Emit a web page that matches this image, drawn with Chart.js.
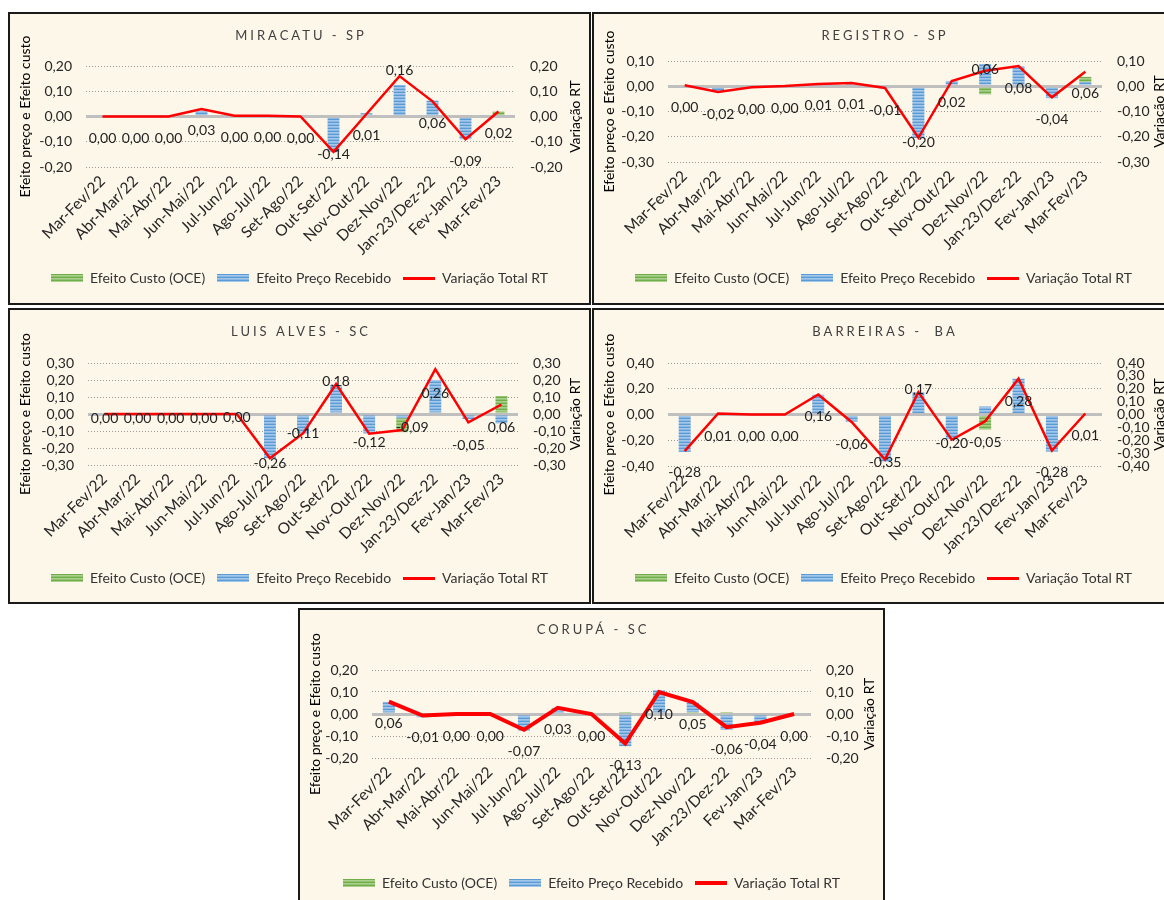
<!DOCTYPE html>
<html>
<head>
<meta charset="utf-8">
<script src="https://cdn.jsdelivr.net/npm/chart.js@4.4.0/dist/chart.umd.min.js"></script>
<style>
  html, body { margin: 0; padding: 0; background: #fff; width: 1164px; height: 900px; overflow: hidden; }
  .panel { position: absolute; box-sizing: border-box; border: 2px solid #1a1a1a; background: #fdf7ea; }
  .panel canvas { display: block; }
</style>
</head>
<body>
<script>
const categories = [
  'Mar-Fev/22', 'Abr-Mar/22', 'Mai-Abr/22', 'Jun-Mai/22', 'Jul-Jun/22', 'Ago-Jul/22',
  'Set-Ago/22', 'Out-Set/22', 'Nov-Out/22', 'Dez-Nov/22', 'Jan-23/Dez-22', 'Fev-Jan/23', 'Mar-Fev/23'
];
const seriesLabels = ['Efeito Custo (OCE)', 'Efeito Preço Recebido', 'Variação Total RT'];

// MIRACATU - SP
const miracatuCusto = [0, 0, 0, 0, 0, 0, 0, 0, 0, 0, 0, 0, 0.02];
const miracatuPreco = [0, 0, 0, 0.023, 0, 0, 0, -0.14, 0.013, 0.125, 0.063, -0.09, 0];
const miracatuTotal = [0, 0, 0, 0.03, 0.003, 0.003, 0, -0.14, 0.01, 0.16, 0.06, -0.09, 0.02];

// REGISTRO - SP
const registroCusto = [0, 0, 0, 0, 0, 0, 0, 0, 0, -0.032, 0, 0, 0.02];
const registroPreco = [0, -0.023, 0, 0, 0, 0.01, -0.008, -0.205, 0.021, 0.088, 0.08, -0.047, 0.017];
const registroTotal = [0.004, -0.023, -0.004, 0.001, 0.009, 0.013, -0.007, -0.204, 0.021, 0.061, 0.08, -0.044, 0.057];

// LUIS ALVES - SC
const luisAlvesCusto = [0, 0, 0, 0, 0, 0, 0, 0, 0, -0.082, 0, 0, 0.106];
const luisAlvesPreco = [0, 0, 0, 0, 0, -0.26, -0.114, 0.17, -0.114, -0.025, 0.2, -0.03, -0.055];
const luisAlvesTotal = [0, 0, 0, 0, 0, -0.26, -0.114, 0.176, -0.116, -0.094, 0.264, -0.049, 0.056];

// BARREIRAS - BA
const barreirasCusto = [0, 0, 0, 0, 0, 0, 0, 0, 0, -0.117, 0, 0, 0];
const barreirasPreco = [-0.29, 0, 0, 0, 0.153, -0.055, -0.366, 0.174, -0.19, 0.062, 0.278, -0.288, 0];
const barreirasTotal = [-0.284, 0.008, 0, 0, 0.156, -0.058, -0.35, 0.174, -0.196, -0.052, 0.278, -0.28, 0.008];

// CORUPÁ - SC
const corupaCusto = [0, 0, 0, 0, 0, 0, 0, 0.009, 0, 0.009, 0.009, 0, 0];
const corupaPreco = [0.055, -0.015, 0, 0, -0.075, 0.028, 0, -0.146, 0.108, 0.042, -0.072, -0.042, 0];
const corupaTotal = [0.056, -0.007, 0, 0, -0.072, 0.028, 0, -0.134, 0.1, 0.054, -0.06, -0.04, 0];

const panels = [
  {
    title: 'MIRACATU - SP', custo: miracatuCusto, preco: miracatuPreco, total: miracatuTotal,
    box: [8, 12, 583, 293], plot: [76, 505, 52, 153], titleY: 22, legendY: 264,
    min: -0.2, max: 0.2, step: 0.1, rightStep: 0.1, lineWidth: 2.5, custoFirst: false,
    labelDy: { 7: 3, 9: -6 },
  },
  {
    title: 'REGISTRO - SP', custo: registroCusto, preco: registroPreco, total: registroTotal,
    box: [592, 12, 583, 293], plot: [74, 508, 47, 148], titleY: 22, legendY: 264,
    min: -0.3, max: 0.1, step: 0.1, rightStep: 0.1, lineWidth: 2.5, custoFirst: false,
    labelDy: { 7: 5, 9: -1 },
  },
  {
    title: 'LUIS ALVES - SC', custo: luisAlvesCusto, preco: luisAlvesPreco, total: luisAlvesTotal,
    box: [8, 308, 583, 296], plot: [78, 508, 53, 155], titleY: 22, legendY: 268,
    min: -0.3, max: 0.3, step: 0.1, rightStep: 0.1, lineWidth: 2.5, custoFirst: false,
    labelDy: [4, 4, 4, 4, 3, 5, 0, -3, 9, -2, 24, 23, 23], labelDx: { 9: 10 },
  },
  {
    title: 'BARREIRAS -  BA', custo: barreirasCusto, preco: barreirasPreco, total: barreirasTotal,
    box: [592, 308, 583, 296], plot: [74, 508, 53, 156], titleY: 22, legendY: 268,
    min: -0.4, max: 0.4, step: 0.2, rightStep: 0.1, lineWidth: 2.5, custoFirst: false,
    labelDy: [21, 23, 22, 22, 22, 23, 3, -3, 4, 21, 23, 22, 22],
  },
  {
    title: 'CORUPÁ - SC', custo: corupaCusto, preco: corupaPreco, total: corupaTotal,
    box: [298, 608, 587, 298], plot: [72, 511, 60, 148], titleY: 20, legendY: 273,
    min: -0.2, max: 0.2, step: 0.1, rightStep: 0.1, lineWidth: 4, custoFirst: true,
    labelDy: {},
  },
];

const FONT = 'Lato';
const LEGEND_PAD = 12;
const LEGEND_FONT = 14;

function fmt(v) {
  let s = Number(v).toFixed(2);
  if (s === '-0.00') s = '0.00';
  return s.replace('.', ',');
}

function stripes(rows) {
  const c = document.createElement('canvas');
  c.width = 4;
  c.height = rows.length;
  const g = c.getContext('2d');
  rows.forEach((col, i) => {
    g.fillStyle = col;
    g.fillRect(0, i, 4, 1);
  });
  return g.createPattern(c, 'repeat');
}

function swatch(pattern, w, h) {
  const c = document.createElement('canvas');
  c.width = w;
  c.height = h;
  const g = c.getContext('2d');
  g.fillStyle = pattern;
  g.fillRect(0, 0, w, h);
  return c;
}

const greenFill = stripes(['#70ad47', '#a9d08e', '#94c473']);
const blueFill = stripes(['#5b9bd5', '#a3c7eb', '#8cb9e4']);

const panelDecor = {
  id: 'panelDecor',
  afterDraw(chart, args, opts) {
    const ctx = chart.ctx;
    const area = chart.chartArea;
    ctx.save();
    ctx.font = `13px ${FONT}`;
    ctx.fillStyle = '#404040';
    ctx.textAlign = 'center';
    ctx.textBaseline = 'middle';
    ctx.letterSpacing = '3px';
    ctx.fillText(opts.title, chart.width / 2 + 1.5, opts.titleY);
    ctx.restore();

    ctx.save();
    ctx.translate(chart.width - 13.5, (area.top + area.bottom) / 2);
    ctx.rotate(-Math.PI / 2);
    ctx.font = `14px ${FONT}`;
    ctx.fillStyle = '#000';
    ctx.textAlign = 'center';
    ctx.textBaseline = 'middle';
    ctx.fillText('Variação RT', 0, 0);
    ctx.restore();
  },
};

const totalLabels = {
  id: 'totalLabels',
  afterDatasetsDraw(chart, args, opts) {
    const ctx = chart.ctx;
    const meta = chart.getDatasetMeta(0);
    const values = chart.data.datasets[0].data;
    ctx.save();
    ctx.font = `14px ${FONT}`;
    ctx.fillStyle = '#222';
    ctx.textAlign = 'center';
    ctx.textBaseline = 'middle';
    meta.data.forEach((pt, i) => {
      const dy = opts.dy[i] !== undefined ? opts.dy[i] : 22;
      const dx = opts.dx[i] || 0;
      ctx.fillText(fmt(values[i]), pt.x + dx, pt.y + dy);
    });
    ctx.restore();
  },
};

function isZero(ctx) {
  return ctx.tick && Math.abs(ctx.tick.value) < 1e-9;
}

function buildPanel(p) {
  const [left, top, boxW, boxH] = p.box;
  const W = boxW - 4;
  const H = boxH - 4;
  const [plotLeft, plotRight, plotTop, plotBottom] = p.plot;
  const legendH = LEGEND_FONT + LEGEND_PAD + 10;
  const bottomPad = H - p.legendY - (legendH - LEGEND_PAD - LEGEND_FONT / 2);
  const xHeight = H - bottomPad - legendH - plotBottom;

  const div = document.createElement('div');
  div.className = 'panel';
  div.style.left = left + 'px';
  div.style.top = top + 'px';
  div.style.width = boxW + 'px';
  div.style.height = boxH + 'px';
  const canvas = document.createElement('canvas');
  canvas.width = W;
  canvas.height = H;
  canvas.style.width = W + 'px';
  canvas.style.height = H + 'px';
  div.appendChild(canvas);
  document.body.appendChild(div);

  const lineIcon = document.createElement('canvas');
  lineIcon.width = 32;
  lineIcon.height = Math.round(p.lineWidth);
  const lg = lineIcon.getContext('2d');
  lg.fillStyle = '#ff0000';
  lg.fillRect(0, 0, 32, lineIcon.height);

  const totalDs = {
    type: 'line',
    label: seriesLabels[2],
    data: p.total,
    yAxisID: 'y1',
    borderColor: '#ff0000',
    backgroundColor: '#ff0000',
    borderWidth: p.lineWidth,
    pointRadius: 0,
    tension: 0,
    fill: false,
    order: 0,
    legendIcon: lineIcon,
  };
  const custoDs = {
    type: 'bar',
    label: seriesLabels[0],
    data: p.custo,
    yAxisID: 'y',
    backgroundColor: greenFill,
    order: 1,
    legendIcon: swatch(greenFill, 32, 8),
  };
  const precoDs = {
    type: 'bar',
    label: seriesLabels[1],
    data: p.preco,
    yAxisID: 'y',
    backgroundColor: blueFill,
    order: 1,
    legendIcon: swatch(blueFill, 32, 8),
  };
  const bars = p.custoFirst ? [custoDs, precoDs] : [precoDs, custoDs];

  const tickFont = { family: FONT, size: 14 };

  return new Chart(canvas, {
    type: 'bar',
    data: {
      labels: categories,
      datasets: [totalDs, ...bars],
    },
    options: {
      responsive: false,
      animation: false,
      events: [],
      layout: { padding: { top: plotTop, left: 0, right: 0, bottom: bottomPad } },
      datasets: {
        bar: { categoryPercentage: 1, barPercentage: 0.36 },
      },
      scales: {
        x: {
          stacked: true,
          grid: { display: false, drawTicks: false },
          border: { display: false },
          ticks: {
            autoSkip: false,
            maxRotation: 45,
            minRotation: 45,
            padding: 5,
            color: '#262626',
            font: { family: FONT, size: 15.5 },
          },
          afterFit: (scale) => { scale.height = xHeight; },
        },
        y: {
          position: 'left',
          stacked: true,
          min: p.min,
          max: p.max,
          grid: {
            drawTicks: false,
            color: (c) => (isZero(c) ? '#bfbfbf' : '#9a9a9a'),
            lineWidth: (c) => (isZero(c) ? 3 : 1),
          },
          border: {
            display: false,
            dash: (c) => (isZero(c) ? [] : [1, 2]),
          },
          ticks: {
            stepSize: p.step,
            autoSkip: false,
            padding: 14,
            color: '#262626',
            font: tickFont,
            callback: (v) => fmt(v),
          },
          title: {
            display: true,
            text: 'Efeito preço e Efeito custo',
            color: '#000',
            font: { family: FONT, size: 14 },
            padding: { top: 7, bottom: 0 },
          },
          afterFit: (scale) => { scale.width = plotLeft; },
        },
        y1: {
          position: 'right',
          stacked: false,
          min: p.min,
          max: p.max,
          grid: { display: false, drawTicks: false },
          border: { display: false },
          ticks: {
            stepSize: p.rightStep,
            autoSkip: false,
            padding: 15,
            color: '#262626',
            font: tickFont,
            callback: (v) => fmt(v),
          },
          afterFit: (scale) => { scale.width = W - plotRight; },
        },
      },
      plugins: {
        tooltip: { enabled: false },
        title: { display: false },
        legend: {
          position: 'bottom',
          labels: {
            usePointStyle: true,
            pointStyleWidth: 32,
            boxHeight: 8,
            padding: LEGEND_PAD,
            color: '#333',
            font: { family: FONT, size: LEGEND_FONT },
            generateLabels: (chart) => chart.data.datasets.map((ds, i) => ({
              text: ds.label,
              pointStyle: ds.legendIcon,
              datasetIndex: i,
              hidden: false,
              lineWidth: 0,
              fillStyle: 'rgba(0,0,0,0)',
              strokeStyle: 'rgba(0,0,0,0)',
              fontColor: '#333',
            })),
            sort: (a, b) => seriesLabels.indexOf(a.text) - seriesLabels.indexOf(b.text),
          },
        },
        panelDecor: { title: p.title, titleY: p.titleY },
        totalLabels: { dy: p.labelDy || {}, dx: p.labelDx || {} },
      },
    },
    plugins: [panelDecor, totalLabels],
  });
}

panels.forEach(buildPanel);
</script>
</body>
</html>
